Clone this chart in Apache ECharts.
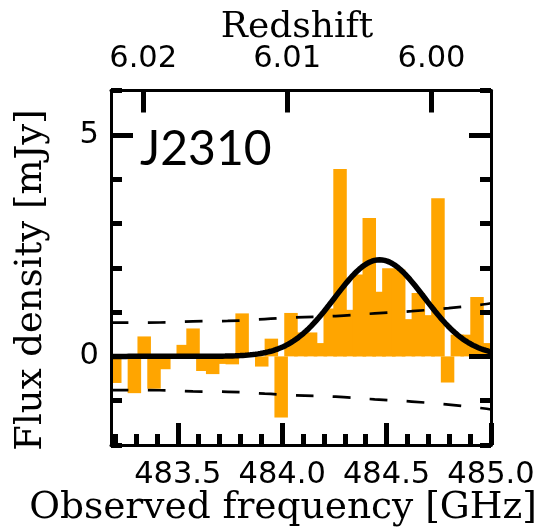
<!DOCTYPE html>
<html>
<head>
<meta charset="utf-8">
<script src="https://cdn.jsdelivr.net/npm/echarts@6/dist/echarts.min.js"></script>
<style>
  html, body { margin: 0; padding: 0; background: #fff; }
  #chart { width: 544px; height: 529px; }
</style>
</head>
<body>
<div id="chart"></div>
<script>
// Spectrum channels: centre frequency (GHz) and flux density (mJy)
const channelFreqGHz = [
  483.198, 483.245, 483.292, 483.339, 483.386, 483.433, 483.480, 483.526,
  483.573, 483.620, 483.667, 483.714, 483.761, 483.808, 483.855, 483.902,
  483.948, 483.995, 484.042, 484.089, 484.136, 484.183, 484.230, 484.277,
  484.324, 484.370, 484.417, 484.464, 484.511, 484.558, 484.605, 484.652,
  484.699, 484.746, 484.792, 484.839, 484.886, 484.933, 484.980
];
const channelFluxMJy = [
  -0.60, -0.03, -0.83, 0.45, -0.73, -0.29, 0.02, 0.26,
  0.63, -0.33, -0.40, -0.17, -0.18, 0.97, 0.03, -0.23,
  0.40, -1.38, 0.98, 0.54, 0.54, 0.30, 1.08, 4.23,
  1.05, 1.85, 3.12, 1.46, 1.99, 1.96, 0.84, 1.43,
  0.93, 3.57, -0.59, 0.49, 0.49, 1.34, 0.30
];
// Drawn bar width (GHz); a bit wider than the channel spacing, so bars overlap
const barWidthGHz = 0.0646;

// 1-sigma noise level along the band
const noiseFreqGHz = [483.18, 483.414, 483.572, 483.739, 483.916, 484.060, 484.256, 484.443, 484.620, 484.797, 484.959, 485.0];
const noiseRmsMJy  = [0.76, 0.765, 0.79, 0.80, 0.84, 0.88, 0.91, 0.97, 1.02, 1.09, 1.17, 1.20];

// Gaussian fit to the emission line
const fitPeakMJy = 2.18;
const fitCentreGHz = 484.4665;
const fitSigmaGHz = 0.2153;

// Axis ranges and ticks
const freqMin = 483.18, freqMax = 485.0;
const fluxMin = -2, fluxMax = 6;
const freqMajorTicks = [483.5, 484.0, 484.5, 485.0];
const freqMinorTicks = [483.2, 483.3, 483.4, 483.6, 483.7, 483.8, 483.9,
                        484.1, 484.2, 484.3, 484.4, 484.6, 484.7, 484.8, 484.9];
const fluxMajorTicks = [0, 5];
const fluxMinorTicks = [-2, -1, 1, 2, 3, 4, 6];
const redshiftTicks = [6.02, 6.01, 6.00];
const restFreqGHz = 3393.006; // [OIII] 88 micron rest frequency

const redshiftTickFreqs = redshiftTicks.map(z => restFreqGHz / (1 + z));

// Model curve sampled across the band
const fitCurve = [];
for (let i = 0; i <= 300; i++) {
  const f = freqMin + (freqMax - freqMin) * i / 300;
  const d = (f - fitCentreGHz) / fitSigmaGHz;
  fitCurve.push([f, fitPeakMJy * Math.exp(-0.5 * d * d)]);
}

const TICK_FONT = 'DejaVu Sans';
const INK = '#000';

function tickAxis(extra) {
  const base = {
    type: 'value',
    z: 5,
    splitLine: { show: false },
    axisLabel: { show: false },
    axisTick: { show: false }
  };
  const out = Object.assign(base, extra);
  out.axisLine = Object.assign({ show: false, onZero: false }, extra.axisLine || {});
  return out;
}

const chart = echarts.init(document.getElementById('chart'), null, { renderer: 'canvas' });

chart.setOption({
  animation: false,
  backgroundColor: '#fff',
  grid: { left: 111, right: 53, top: 90.5, bottom: 84, containLabel: false },
  xAxis: [
    // bottom: frequency, major ticks and labels
    tickAxis({
      position: 'bottom', min: freqMin, max: freqMax,
      axisLine: { show: true, lineStyle: { color: INK, width: 3 } },
      axisTick: { show: true, inside: true, length: 22, customValues: freqMajorTicks,
                  lineStyle: { color: INK, width: 5 } },
      axisLabel: { show: true, customValues: freqMajorTicks, margin: 15,
                   formatter: v => v.toFixed(1),
                   fontFamily: TICK_FONT, fontSize: 30.5, color: INK }
    }),
    // bottom: frequency minor ticks
    tickAxis({
      position: 'bottom', min: freqMin, max: freqMax,
      axisTick: { show: true, inside: true, length: 11, customValues: freqMinorTicks,
                  lineStyle: { color: INK, width: 5 } }
    }),
    // top: redshift of the line
    tickAxis({
      position: 'top', min: freqMin, max: freqMax,
      axisLine: { show: true, lineStyle: { color: INK, width: 3 } },
      axisTick: { show: true, inside: true, length: 22, customValues: redshiftTickFreqs,
                  lineStyle: { color: INK, width: 5 } },
      axisLabel: { show: true, customValues: redshiftTickFreqs, margin: 16,
                   formatter: v => (restFreqGHz / v - 1).toFixed(2),
                   fontFamily: TICK_FONT, fontSize: 30.5, color: INK }
    })
  ],
  yAxis: [
    tickAxis({
      position: 'left', min: fluxMin, max: fluxMax,
      axisLine: { show: true, lineStyle: { color: INK, width: 3 } },
      axisTick: { show: true, inside: true, length: 22, customValues: fluxMajorTicks,
                  lineStyle: { color: INK, width: 5 } },
      axisLabel: { show: true, customValues: fluxMajorTicks, margin: 12,
                   fontFamily: TICK_FONT, fontSize: 30.5, color: INK }
    }),
    tickAxis({
      position: 'left', min: fluxMin, max: fluxMax,
      axisTick: { show: true, inside: true, length: 11, customValues: fluxMinorTicks,
                  lineStyle: { color: INK, width: 5 } }
    }),
    tickAxis({
      position: 'right', min: fluxMin, max: fluxMax,
      axisLine: { show: true, lineStyle: { color: INK, width: 3 } },
      axisTick: { show: true, inside: true, length: 22, customValues: fluxMajorTicks,
                  lineStyle: { color: INK, width: 5 } }
    }),
    tickAxis({
      position: 'right', min: fluxMin, max: fluxMax,
      axisTick: { show: true, inside: true, length: 11, customValues: fluxMinorTicks,
                  lineStyle: { color: INK, width: 5 } }
    })
  ],
  graphic: [
    { type: 'text', x: 297, y: 28, z: 10,
      style: { text: 'Redshift', font: '36px "DejaVu Serif"', fill: INK,
               align: 'center', verticalAlign: 'middle' } },
    { type: 'text', x: 283, y: 508, z: 10,
      style: { text: 'Observed frequency [GHz]', font: '37.5px "DejaVu Serif"', fill: INK,
               align: 'center', verticalAlign: 'middle' } },
    { type: 'text', x: 31, y: 280, rotation: Math.PI / 2, z: 10,
      style: { text: 'Flux density [mJy]', font: '37px "DejaVu Serif"', fill: INK,
               align: 'center', verticalAlign: 'middle' } },
    { type: 'text', x: 140, y: 150, z: 10,
      style: { text: 'J2310', font: '48px Lato', fill: INK,
               align: 'left', verticalAlign: 'middle' } }
  ],
  series: [
    {
      type: 'custom',
      xAxisIndex: 0, yAxisIndex: 0,
      z: 1,
      data: channelFreqGHz.map((f, i) => [f, channelFluxMJy[i]]),
      renderItem(params, api) {
        const f = api.value(0), v = api.value(1);
        const a = api.coord([f - barWidthGHz / 2, 0]);
        const b = api.coord([f + barWidthGHz / 2, v]);
        const rect = echarts.graphic.clipRectByRect({
          x: a[0], y: Math.min(a[1], b[1]),
          width: b[0] - a[0], height: Math.abs(b[1] - a[1])
        }, {
          x: params.coordSys.x, y: params.coordSys.y,
          width: params.coordSys.width, height: params.coordSys.height
        });
        return rect && { type: 'rect', shape: rect, style: { fill: '#ffa500' } };
      }
    },
    {
      type: 'line', xAxisIndex: 0, yAxisIndex: 0, z: 2,
      data: noiseFreqGHz.map((f, i) => [f, noiseRmsMJy[i]]),
      smooth: true, showSymbol: false, symbol: 'none',
      lineStyle: { color: INK, width: 2.7, type: [17.5, 19.5] }
    },
    {
      type: 'line', xAxisIndex: 0, yAxisIndex: 0, z: 2,
      data: noiseFreqGHz.map((f, i) => [f, -noiseRmsMJy[i]]),
      smooth: true, showSymbol: false, symbol: 'none',
      lineStyle: { color: INK, width: 2.7, type: [17.5, 19.5] }
    },
    {
      type: 'line', xAxisIndex: 0, yAxisIndex: 0, z: 3,
      data: fitCurve,
      showSymbol: false, symbol: 'none',
      lineStyle: { color: INK, width: 5.5 }
    }
  ]
});
</script>
</body>
</html>
